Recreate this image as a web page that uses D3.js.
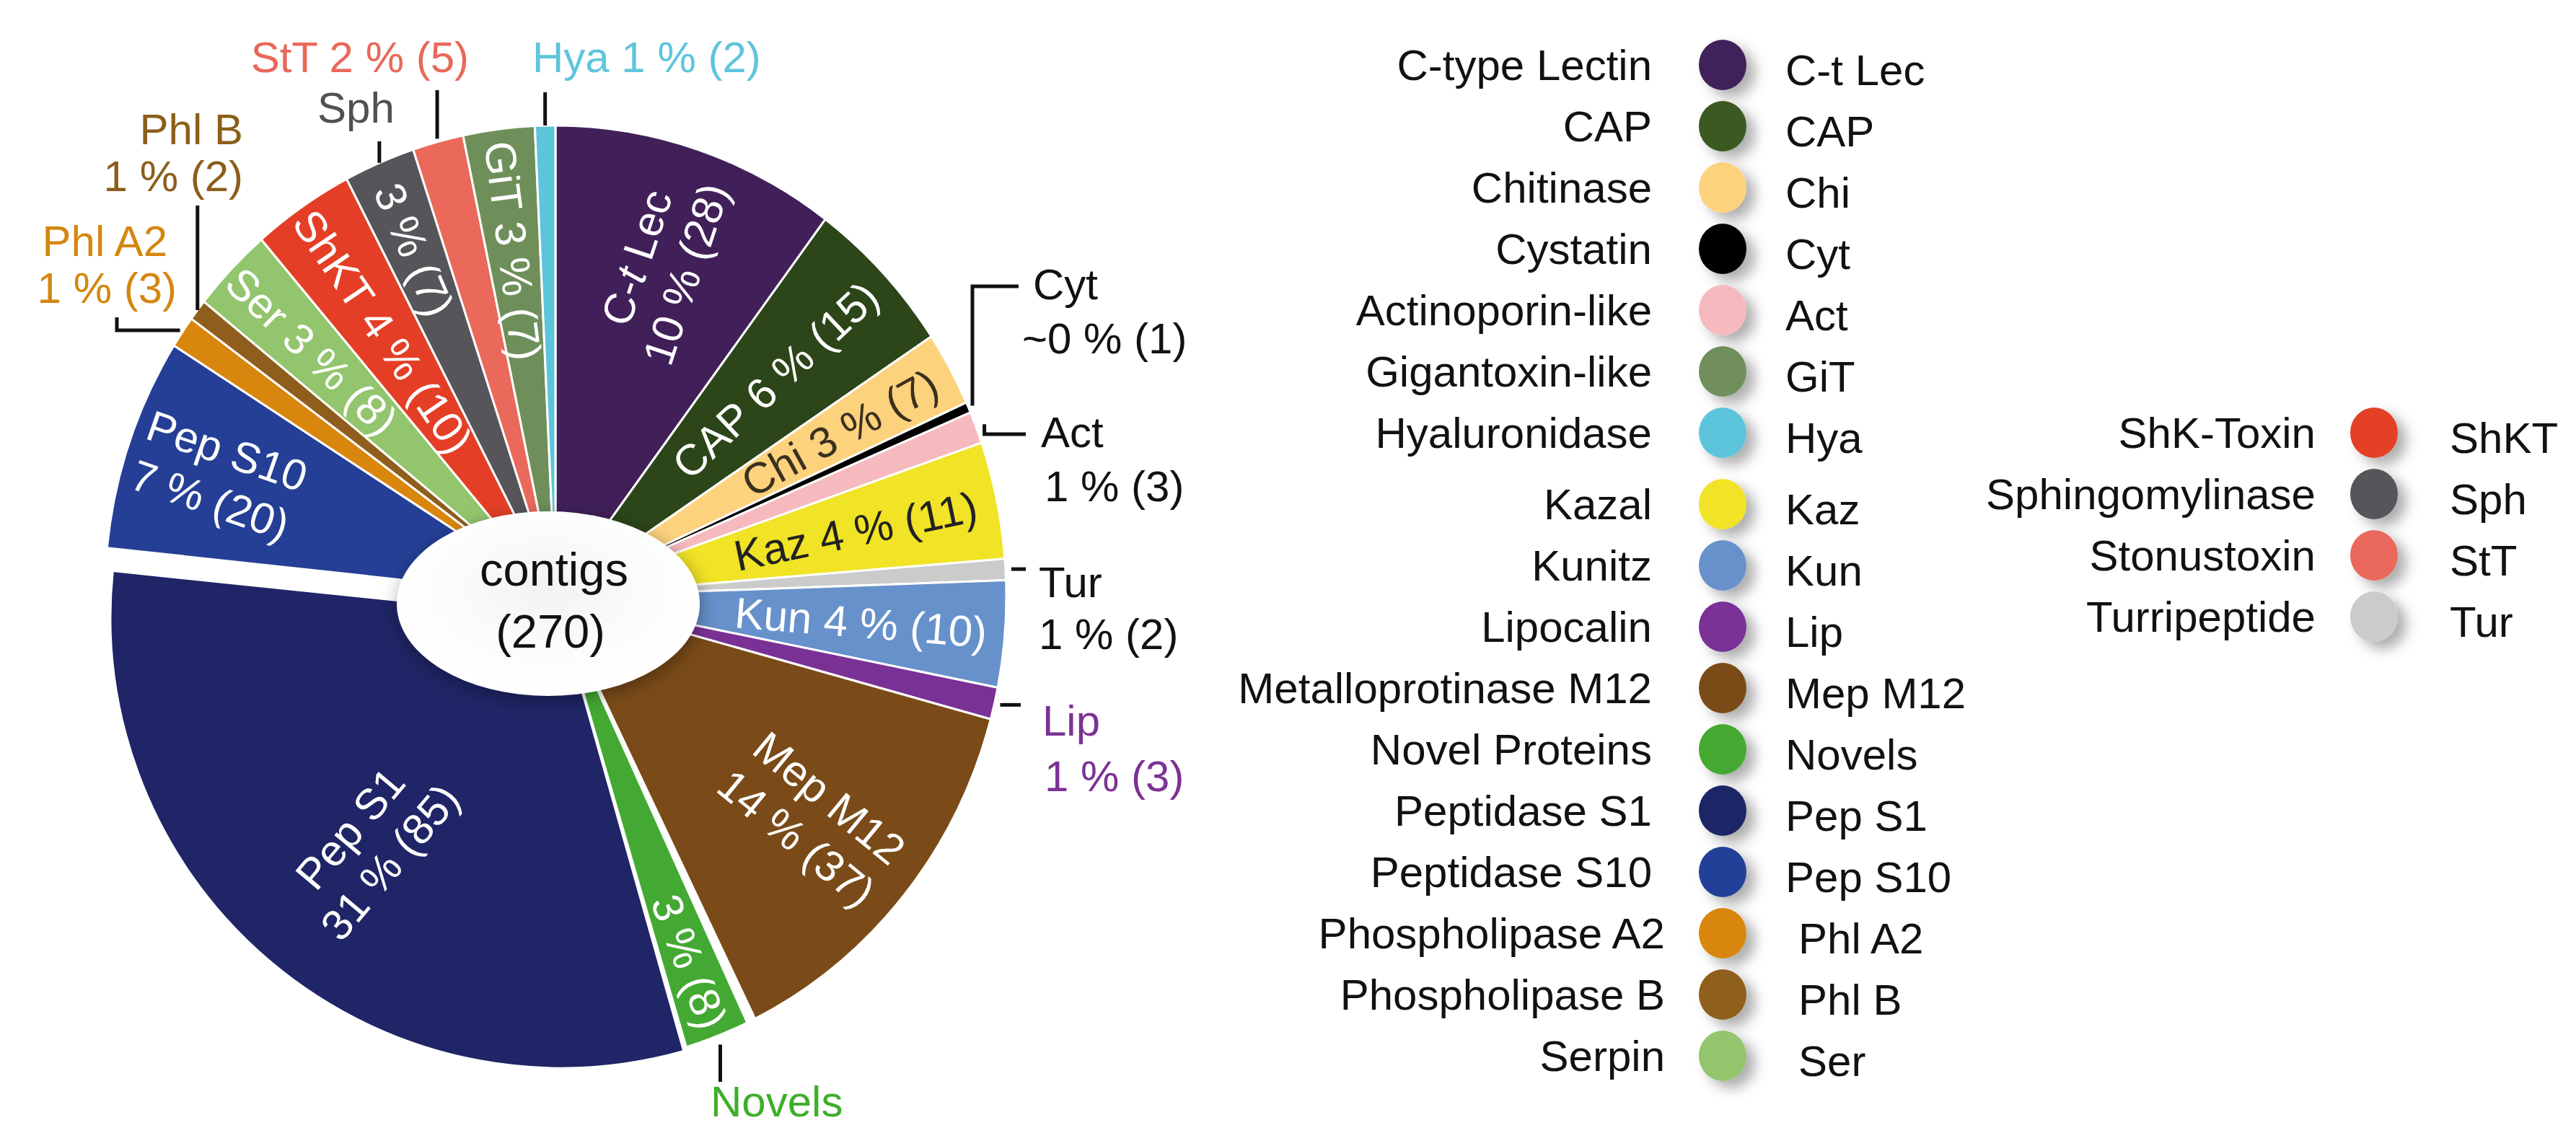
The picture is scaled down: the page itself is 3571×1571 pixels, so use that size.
<!DOCTYPE html>
<html>
<head>
<meta charset="utf-8">
<script src="https://cdn.jsdelivr.net/npm/d3@7"></script>
<style>
  body { margin: 0; background: #ffffff; }
  svg { display: block; }
  text { font-family: "Liberation Sans", Arial, Helvetica, sans-serif; }
</style>
</head>
<body>
<svg id="chart" width="3571" height="1571"></svg>
<script>
// ---------------- DATA ----------------
const categories = ["C-t Lec","CAP","Chi","Cyt","Act","Kaz","Tur","Kun","Lip","Mep M12","Novels",
  "Pep S1","Pep S10","Phl A2","Phl B","Ser","ShKT","Sph","StT","GiT","Hya"];
const fullNames = ["C-type Lectin","CAP","Chitinase","Cystatin","Actinoporin-like","Kazal","Turripeptide",
  "Kunitz","Lipocalin","Metalloprotinase M12","Novel Proteins","Peptidase S1","Peptidase S10",
  "Phospholipase A2","Phospholipase B","Serpin","ShK-Toxin","Sphingomylinase","Stonustoxin",
  "Gigantoxin-like","Hyaluronidase"];
const counts = [28,15,7,1,3,11,2,10,3,37,8,85,20,3,2,8,10,7,5,7,2];
const percentLabels = ["10 %","6 %","3 %","~0 %","1 %","4 %","1 %","4 %","1 %","14 %","3 %",
  "31 %","7 %","1 %","1 %","3 %","4 %","3 %","2 %","3 %","1 %"];
const totalContigs = 270;
const legendColumn1 = ["C-t Lec","CAP","Chi","Cyt","Act","GiT","Hya","Kaz","Kun","Lip","Mep M12",
  "Novels","Pep S1","Pep S10","Phl A2","Phl B","Ser"];
const legendColumn2 = ["ShKT","Sph","StT","Tur"];

// ---------------- STYLES ----------------
const colorMap = {
  "C-t Lec":"#41205a","CAP":"#2c4519","Chi":"#fdd27d","Cyt":"#000000","Act":"#f5b9be",
  "Kaz":"#f1e326","Tur":"#cbcbcb","Kun":"#6791cb","Lip":"#7a3196","Mep M12":"#7a4b18",
  "Novels":"#44a932","Pep S1":"#1f2566","Pep S10":"#243f95","Phl A2":"#d8860d","Phl B":"#8f5e1d",
  "Ser":"#92c56d","ShKT":"#e43f26","Sph":"#55555a","StT":"#ea695b","GiT":"#6f8f5a","Hya":"#5cc5dc"
};
const legendColorMap = Object.assign({}, colorMap, {"CAP":"#3a5a24"});
const darkLabel = {"Chi":"#3a3020","Kaz":"#222222"};
const outerTextColor = {"StT":"#e9685a","Hya":"#5ec5dc","Sph":"#505055","Phl B":"#8b5e1a",
  "Phl A2":"#d4870f","Cyt":"#111","Act":"#111","Tur":"#111","Lip":"#7b3294","Novels":"#3fae2a"};

// ---------------- LAYOUT ----------------
const FS = 60;
const cx = 770, cy = 827, R = 625, ky = 1.045;
const svg = d3.select("#chart");

const defs = svg.append("defs");
defs.append("filter").attr("id","legShadow").attr("x","-60%").attr("y","-60%").attr("width","260%").attr("height","260%")
  .append("feDropShadow").attr("dx",12).attr("dy",10).attr("stdDeviation",9)
  .attr("flood-color","#000").attr("flood-opacity",0.32);
defs.append("filter").attr("id","ellShadow").attr("x","-30%").attr("y","-40%").attr("width","160%").attr("height","180%")
  .append("feDropShadow").attr("dx",2).attr("dy",6).attr("stdDeviation",12)
  .attr("flood-color","#000").attr("flood-opacity",0.35);
const rg = defs.append("radialGradient").attr("id","ellFill").attr("cx","50%").attr("cy","42%").attr("r","55%");
rg.append("stop").attr("offset","0%").attr("stop-color","#f2f2f2");
rg.append("stop").attr("offset","55%").attr("stop-color","#fbfbfb");
rg.append("stop").attr("offset","100%").attr("stop-color","#ffffff");

const data = categories.map((c,i)=>({cat:c, name:fullNames[i], count:counts[i], pct:percentLabels[i]}));
const pie = d3.pie().sort(null).value(d=>d.count).startAngle(0).endAngle(2*Math.PI);
const arcs = pie(data);
const byCat = {}; arcs.forEach(a=>byCat[a.data.cat]=a);

// special treatment of the detached slices
const sliceOffset = {"Pep S1":[8,29]};
const sliceKy = {"Pep S1":1.0};
const slicePad = {"Novels":24};
const baseArc = d3.arc().innerRadius(0).outerRadius(R);
const padArc = d3.arc().innerRadius(0).outerRadius(R).padRadius(R);

function arcFor(d){
  const p = slicePad[d.data.cat];
  return p ? padArc.padAngle(p/R)(d) : baseArc(d);
}
function kyOf(cat){ return sliceKy[cat] != null ? sliceKy[cat] : ky; }

const pieG = svg.append("g").attr("transform",`translate(${cx},${cy})`);
pieG.selectAll("path").data(arcs).join("path")
  .attr("d", arcFor)
  .attr("transform", d=>{ const o=sliceOffset[d.data.cat]||[0,0]; return `translate(${o[0]},${o[1]}) scale(1,${kyOf(d.data.cat)})`; })
  .attr("fill", d=>colorMap[d.data.cat])
  .attr("stroke","#ffffff").attr("stroke-width",3)
  .attr("vector-effect","non-scaling-stroke")
  .attr("stroke-linejoin","round");

function pt(a, r, cat){
  const o = sliceOffset[cat] || [0,0];
  return [r*Math.sin(a) + o[0], -r*Math.cos(a)*kyOf(cat) + o[1]];
}

// ---------------- IN-SLICE LABELS ----------------
const insideLayout = {
  "C-t Lec":{r:0.74, two:true}, "CAP":{r:0.67}, "Chi":{r:0.72}, "Kaz":{r:0.68}, "Kun":{r:0.68},
  "Mep M12":{r:0.74, two:true}, "Novels":{r:0.83, noName:true}, "Pep S1":{r:0.66, two:true},
  "Pep S10":{r:0.79, two:true}, "Ser":{r:0.75}, "ShKT":{r:0.68}, "Sph":{r:0.80, noName:true},
  "GiT":{r:0.74}
};
const LH = 72;
Object.keys(insideLayout).forEach(cat=>{
  const a = byCat[cat], L = insideLayout[cat];
  const mid = (a.startAngle + a.endAngle)/2;
  const [x,y] = pt(mid, R*L.r, cat);
  const deg = mid*180/Math.PI;
  const rot = deg < 180 ? deg - 90 : deg - 270;
  const val = `${a.data.pct} (${a.data.count})`;
  const lines = L.noName ? [val] : (L.two ? [a.data.cat, val] : [`${a.data.cat} ${val}`]);
  const t = pieG.append("text")
    .attr("transform",`translate(${x},${y}) rotate(${rot})`)
    .attr("text-anchor","middle").attr("font-size",FS)
    .attr("fill", darkLabel[cat] || "#ffffff");
  lines.forEach((ln,i)=>{
    const by = (i - (lines.length-1)/2)*LH + 0.36*FS;
    const ts = t.append("tspan").attr("x",0).attr("y",by);
    if (ln === "C-t Lec") {
      ts.text("C-");
      t.append("tspan").attr("font-style","italic").text("t");
      t.append("tspan").text(" Lec");
    } else ts.text(ln);
  });
});

// ---------------- OUTER LABELS + LEADERS ----------------
const outerLayout = [
  {cat:"StT", lines:"one", x:650, y:100, anchor:"end", gap:4, route:[["v",125]]},
  {cat:"Hya", lines:"one", x:738, y:100, anchor:"start", gap:0, route:[["v",128]]},
  {cat:"Sph", lines:"name", x:440, y:170, anchor:"start", gap:0, route:[["v",196]]},
  {cat:"Phl B", lines:"two", x:337, y:200, lh:65, anchor:"end", gap:0, route:[["v",285]]},
  {cat:"Phl A2", lines:"two", x:232, x2:245, y:355, lh:65, anchor:"end", gap:4, route:[["h",162],["v",440]]},
  {cat:"Cyt", lines:"two", x:1432, x2:1417, y:415, lh:75, anchor:"start", gap:6, route:[["v",397],["h",1412]]},
  {cat:"Act", lines:"two", x:1443, x2:1448, y:620, lh:75, anchor:"start", gap:12, route:[["v",602],["h",1422]]},
  {cat:"Tur", lines:"two", x:1440, y:828, lh:72, anchor:"start", gap:8, route:[["h",1422]]},
  {cat:"Lip", lines:"two", x:1445, x2:1448, y:1020, lh:77, anchor:"start", gap:8, route:[["h",1415]]},
  {cat:"Novels", lines:"name", x:985, y:1548, anchor:"start", gap:12, route:[["v",1500]]}
];
const leaderG = svg.append("g").attr("fill","none").attr("stroke","#111").attr("stroke-width",5);
const outerG = svg.append("g");
outerLayout.forEach(o=>{
  const a = byCat[o.cat];
  const mid = (a.startAngle + a.endAngle)/2;
  const p0 = pt(mid, R + o.gap, o.cat);
  let px = p0[0] + cx, py = p0[1] + cy;
  const pts = [[px,py]];
  o.route.forEach(([k,v])=>{ if(k==="v") py=v; else px=v; pts.push([px,py]); });
  leaderG.append("path").attr("d", d3.line()(pts));
  const val = `${a.data.pct} (${a.data.count})`;
  const lines = o.lines==="one" ? [`${a.data.cat} ${val}`] : o.lines==="name" ? [a.data.cat] : [a.data.cat, val];
  lines.forEach((ln,i)=>{
    outerG.append("text")
      .attr("x", i===1 && o.x2 ? o.x2 : o.x)
      .attr("y", o.y + i*(o.lh||72))
      .attr("text-anchor", o.anchor)
      .attr("font-size", FS)
      .attr("fill", outerTextColor[o.cat])
      .text(ln);
  });
});

// ---------------- CENTRE ELLIPSE ----------------
svg.append("ellipse").attr("cx",760).attr("cy",837).attr("rx",210).attr("ry",128)
  .attr("fill","url(#ellFill)").attr("filter","url(#ellShadow)");
svg.append("text").attr("x",768).attr("y",812).attr("text-anchor","middle")
  .attr("font-size",65).attr("fill","#111").text("contigs");
svg.append("text").attr("x",763).attr("y",898).attr("text-anchor","middle")
  .attr("font-size",65).attr("fill","#111").text(`(${totalContigs})`);

// ---------------- LEGEND ----------------
function drawLegend(list, nameX, circleX, abbrX, y0, step, groupGap, groupStart, shiftFrom){
  const g = svg.append("g");
  list.forEach((cat,i)=>{
    const idx = categories.indexOf(cat);
    const y = y0 + i*step + (groupStart!=null && i>=groupStart ? groupGap : 0);
    const sh = (shiftFrom!=null && i>=shiftFrom) ? 18 : 0;
    g.append("ellipse").attr("cx",circleX).attr("cy",y).attr("rx",33).attr("ry",35)
      .attr("fill",legendColorMap[cat]).attr("filter","url(#legShadow)");
    g.append("text").attr("x",nameX+sh).attr("y",y+21).attr("text-anchor","end")
      .attr("font-size",FS).attr("fill","#111").text(fullNames[idx]);
    g.append("text").attr("x",abbrX+sh).attr("y",y+28).attr("text-anchor","start")
      .attr("font-size",FS).attr("fill","#111").text(cat);
  });
}
drawLegend(legendColumn1, 2290, 2388, 2475, 90, 85, 14, 7, 14);
drawLegend(legendColumn2, 3210, 3291, 3396, 600, 85, 0, null, null);
</script>
</body>
</html>
